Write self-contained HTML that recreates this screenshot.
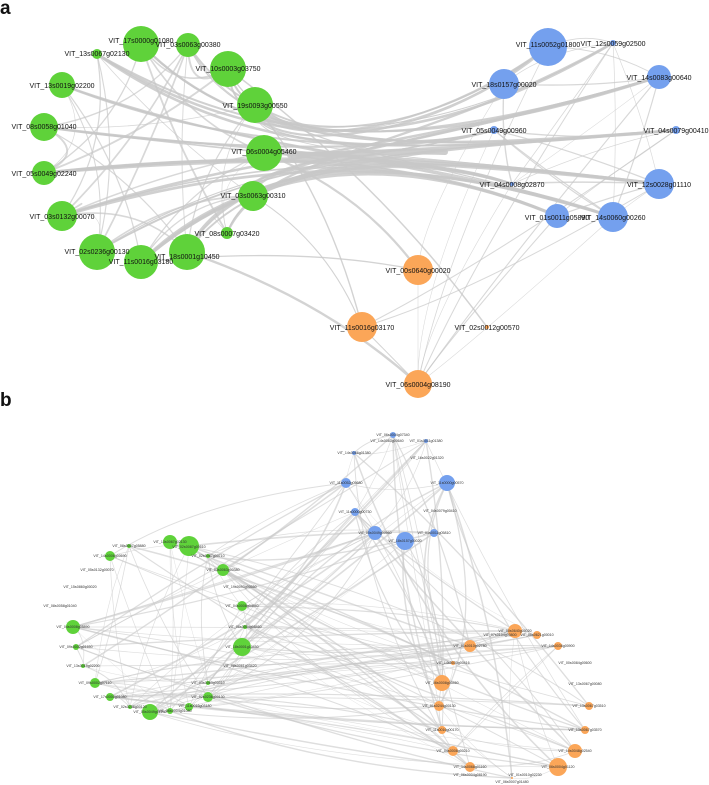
<!DOCTYPE html>
<html><head><meta charset="utf-8"><style>
html,body{margin:0;padding:0;background:#fff}
svg{display:block}
text{font-family:"Liberation Sans",sans-serif;fill:#111}
.l{font-size:7px;text-anchor:middle}
.s{font-size:3.6px;text-anchor:middle;fill:#333}
</style></head><body>
<svg id="s" width="709" height="785" viewBox="0 0 709 785">
<g id="edges" fill="none" stroke="#c8c8c8" stroke-linecap="round"></g>
<g id="nodes">
<text x="0" y="14" style="font-size:19px;font-weight:bold">a</text>
<text x="0" y="406" style="font-size:19px;font-weight:bold">b</text>
</g>
</svg>
<script>
var NS="http://www.w3.org/2000/svg";
var G="#5fd23a",B="#74a0ee",O="#fba658";
var A=[
[141,44,18,G],[188,45,12,G],[97,54,5,G],[228,69,18,G],[62,85,13,G],[255,105,18,G],
[44,127,14,G],[264,153,18,G],[44,173,12,G],[253,196,15,G],[62,216,15,G],[227,233,6,G],
[97,252,18,G],[141,262,17,G],[187,252,18,G],
[548,47,19,B],[613,43,3,B],[504,84,15,B],[659,77,12,B],[494,130,4,B],[676,130,4,B],
[512,184,2,B],[659,184,15,B],[557,216,12,B],[613,217,15,B],
[418,270,15,O],[362,327,15,O],[487,327,2,O],[418,384,14,O]];
var Bn=[
[170,542,7,G],[189,546,10,G],[129,546,2,G],[110,556,5,G],[208,556,2,G],[223,570,6,G],
[242,606,5,G],[245,627,2,G],[242,647,9,G],[73,627,7,G],[76,647,3,G],[83,666,2,G],
[95,683,5,G],[110,697,4,G],[208,683,2,G],[208,697,5,G],[150,712,8,G],[170,711,3,G],[189,707,4,G],[130,707,2,G],
[393,435,3,B],[426,441,2,B],[354,453,2,B],[346,483,5,B],[447,483,8,B],[355,512,4,B],
[375,533,7,B],[405,541,9,B],[434,533,4,B],
[515,631,7,O],[537,635,4,O],[470,646,6,O],[558,646,4,O],[453,663,2,O],[442,683,8,O],
[439,706,5,O],[589,706,4,O],[442,730,4,O],[585,730,4,O],[453,751,5,O],[575,751,7,O],
[470,767,5,O],[558,767,9,O],[512,778,1,O]];
var seed=11;function R(){seed=(seed*16807)%2147483647;return seed/2147483647;}
var eg=document.getElementById("edges"),ng=document.getElementById("nodes");
function P(d,w,op){var p=document.createElementNS(NS,"path");p.setAttribute("d",d);
 p.setAttribute("stroke-width",w);p.setAttribute("stroke-opacity",op||0.8);eg.appendChild(p);}
function edge(x1,y1,x2,y2,w,bx,by,op){var mx=(x1+x2)/2+(bx||0),my=(y1+y2)/2+(by||0);
 P("M"+x1+","+y1+" Q"+mx+","+my+" "+x2+","+y2,w,op);}
var g=A.slice(0,15),b=A.slice(15,25),o=A.slice(25);
// bundle green -> blue
for(var i=0;i<g.length;i++){for(var k=0;k<3;k++){var t=b[Math.floor(R()*b.length)];
 P("M"+g[i][0]+","+g[i][1]+" C"+(230+R()*40)+","+(150+R()*10)+" "+(400+R()*30)+","+(150+R()*6)+" "+t[0]+","+t[1],0.8+R()*2.2,0.85);}
 for(var k=0;k<2;k++){var t=g[Math.floor(R()*g.length)];edge(g[i][0],g[i][1],t[0],t[1],0.5+R()*1.5,(160-(g[i][0]+t[0])/2)*0.4,(155-(g[i][1]+t[1])/2)*0.4,0.7);}
}
// green -> orange
[[264,153],[253,196],[228,69],[187,252],[141,262],[255,105]].forEach(function(s,j){var t=o[j%4];
 edge(s[0],s[1],t[0],t[1],1+R()*1.5,20,-20,0.8);});
for(var i=0;i<b.length;i++){for(var k=0;k<2;k++){var t=b[Math.floor(R()*b.length)];edge(b[i][0],b[i][1],t[0],t[1],0.5+R()*1,(R()-.5)*30,(R()-.5)*30,0.7);}
 var t=o[Math.floor(R()*o.length)];edge(b[i][0],b[i][1],t[0],t[1],0.5+R()*0.8,-40,40,0.7);}
edge(418,270,418,384,0.6,0,0,0.7);edge(362,327,418,384,1,0,0,0.8);
P("M290,155 C340,156 400,150 445,152",6,0.9);
// panel b
var bn=Bn;
for(var i=0;i<bn.length;i++){for(var k=0;k<4;k++){var t=bn[Math.floor(R()*bn.length)];
 var c=(bn[i][3]!=t[3]);edge(bn[i][0],bn[i][1],t[0],t[1],0.4+R()*(c?1.3:0.6),(R()-.5)*(c?100:30),(R()-.5)*(c?60:30),0.6);}}
[A,Bn].forEach(function(L){L.forEach(function(n){var c=document.createElementNS(NS,"circle");
 c.setAttribute("cx",n[0]);c.setAttribute("cy",n[1]);c.setAttribute("r",n[2]);c.setAttribute("fill",n[3]);ng.appendChild(c);});});
</script>
<svg width="709" height="785" viewBox="0 0 709 785" style="position:absolute;left:0;top:0">
<g>
<text class="l" x="141" y="43">VIT_17s0000g01080</text><text class="l" x="188" y="47">VIT_03s0063g00380</text>
<text class="l" x="97" y="56">VIT_13s0067g02130</text><text class="l" x="228" y="71">VIT_10s0003g03750</text>
<text class="l" x="62" y="88">VIT_13s0019g02200</text><text class="l" x="255" y="108">VIT_19s0093g00550</text>
<text class="l" x="44" y="129">VIT_08s0058g01040</text><text class="l" x="264" y="154">VIT_06s0004g05460</text>
<text class="l" x="44" y="176">VIT_05s0049g02240</text><text class="l" x="253" y="198">VIT_03s0063g00310</text>
<text class="l" x="62" y="219">VIT_03s0132g00070</text><text class="l" x="227" y="236">VIT_08s0007g03420</text>
<text class="l" x="97" y="254">VIT_02s0236g00130</text><text class="l" x="141" y="264">VIT_11s0016g03180</text>
<text class="l" x="187" y="259">VIT_18s0001g10450</text>
<text class="l" x="548" y="47">VIT_11s0052g01800</text><text class="l" x="613" y="46">VIT_12s0059g02500</text>
<text class="l" x="504" y="87">VIT_18s0157g00020</text><text class="l" x="659" y="80">VIT_14s0083g00640</text>
<text class="l" x="494" y="133">VIT_05s0049g00960</text><text class="l" x="676" y="133">VIT_04s0079g00410</text>
<text class="l" x="512" y="187">VIT_04s0008g02870</text><text class="l" x="659" y="187">VIT_12s0028g01110</text>
<text class="l" x="557" y="220">VIT_01s0011g05890</text><text class="l" x="613" y="220">VIT_14s0060g00260</text>
<text class="l" x="418" y="273">VIT_00s0640g00020</text><text class="l" x="362" y="330">VIT_11s0016g03170</text>
<text class="l" x="487" y="330">VIT_02s0012g00570</text><text class="l" x="418" y="387">VIT_06s0004g08190</text>
</g>
<g>
<text class="s" x="170" y="543">VIT_13s0067g02130</text><text class="s" x="189" y="548">VIT_02s0087g00610</text>
<text class="s" x="129" y="547">VIT_08s0007g05880</text><text class="s" x="110" y="557">VIT_14s0006g00690</text>
<text class="s" x="208" y="557">VIT_02s0087g00710</text><text class="s" x="223" y="571">VIT_03s0063g00380</text>
<text class="s" x="97" y="571">VIT_05s0132g00070</text><text class="s" x="80" y="588">VIT_15s0860g00020</text>
<text class="s" x="240" y="588">VIT_19s0093g00550</text><text class="s" x="242" y="607">VIT_04s0008g04940</text>
<text class="s" x="60" y="607">VIT_08s0058g01040</text><text class="s" x="245" y="628">VIT_06s0004g05460</text>
<text class="s" x="242" y="648">VIT_18s0001g10450</text><text class="s" x="73" y="628">VIT_04s0008g05890</text>
<text class="s" x="76" y="648">VIT_09s0002g01650</text><text class="s" x="83" y="667">VIT_13s0019g02200</text>
<text class="s" x="240" y="667">VIT_08s0061g03420</text><text class="s" x="95" y="684">VIT_09s0002g07110</text>
<text class="s" x="110" y="698">VIT_17s0000g01080</text><text class="s" x="208" y="684">VIT_03s0063g00310</text>
<text class="s" x="208" y="698">VIT_02s0236g00130</text><text class="s" x="150" y="713">VIT_05s0049g02240</text>
<text class="s" x="175" y="712">VIT_06s0004g01080</text><text class="s" x="195" y="707">VIT_11s0016g03180</text>
<text class="s" x="130" y="708">VIT_02s0236g00120</text>
<text class="s" x="393" y="436">VIT_06s0004g07340</text><text class="s" x="387" y="442">VIT_14s0083g00640</text>
<text class="s" x="426" y="442">VIT_01s0011g01380</text><text class="s" x="354" y="454">VIT_14s0066g01380</text>
<text class="s" x="427" y="459">VIT_16s0022g01320</text><text class="s" x="346" y="484">VIT_11s0052g05680</text>
<text class="s" x="447" y="484">VIT_11s0000g00570</text><text class="s" x="355" y="513">VIT_11s0000g00730</text>
<text class="s" x="440" y="512">VIT_04s0079g00410</text><text class="s" x="375" y="534">VIT_05s0049g00960</text>
<text class="s" x="405" y="542">VIT_18s0157g00020</text><text class="s" x="434" y="534">VIT_01s0011g05810</text>
<text class="s" x="515" y="632">VIT_00s0640g00020</text><text class="s" x="537" y="636">VIT_00s0621g00010</text>
<text class="s" x="500" y="636">VIT_07s0104g00800</text><text class="s" x="470" y="647">VIT_01s0010g02780</text>
<text class="s" x="558" y="647">VIT_14s0036g00900</text><text class="s" x="453" y="664">VIT_14s0030g00416</text>
<text class="s" x="575" y="664">VIT_00s0084g00600</text><text class="s" x="442" y="684">VIT_06s0008g00460</text>
<text class="s" x="585" y="685">VIT_13s0067g00080</text><text class="s" x="439" y="707">VIT_01s0244g00130</text>
<text class="s" x="589" y="707">VIT_13s0067g03510</text><text class="s" x="442" y="731">VIT_11s0016g00170</text>
<text class="s" x="585" y="731">VIT_13s0067g03570</text><text class="s" x="453" y="752">VIT_04s0008g00210</text>
<text class="s" x="575" y="752">VIT_10s0048g02540</text><text class="s" x="470" y="768">VIT_14s0068g01160</text>
<text class="s" x="558" y="768">VIT_06s0004g01120</text><text class="s" x="470" y="776">VIT_06s0004g08190</text>
<text class="s" x="525" y="776">VIT_01s0010g02230</text><text class="s" x="512" y="783">VIT_06s0007g01480</text>
</g>
</svg>
</body></html>
